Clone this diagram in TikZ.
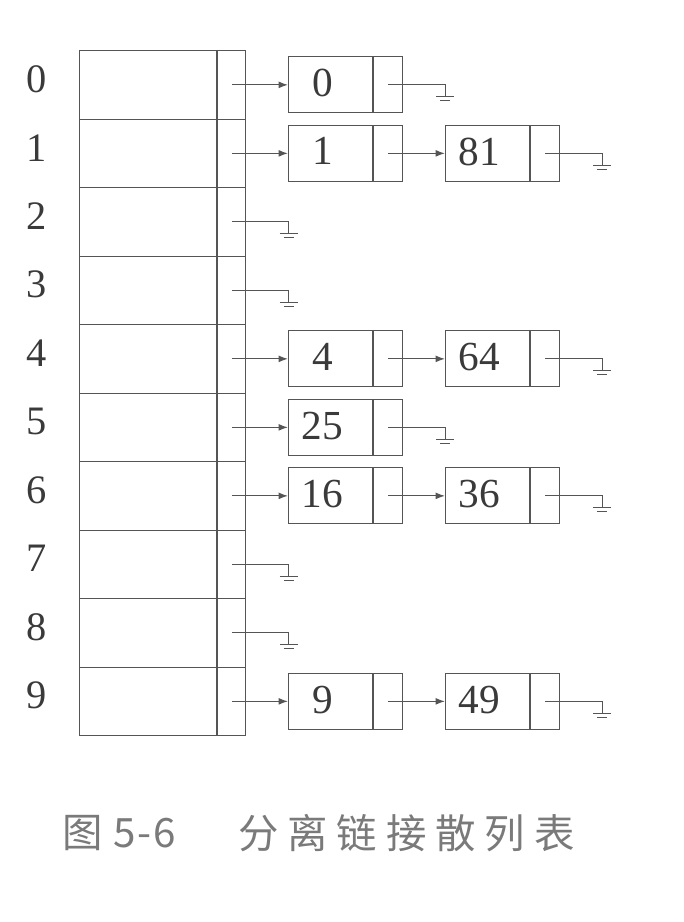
\documentclass[tikz,border=0pt]{standalone}
\usepackage{fontspec}
\setmainfont{Liberation Serif}
\newfontfamily\capfont[LetterSpace=4]{Noto Sans CJK SC}
\newfontfamily\capwidefont[LetterSpace=22]{Noto Sans CJK SC}
\usepackage{xcolor}
\usepackage{tikz}
\usetikzlibrary{arrows.meta,calc,positioning}
\definecolor{hashInk}{HTML}{3A3A3A}
\definecolor{hashLine}{HTML}{555555}
\definecolor{hashCaption}{HTML}{7A7A7A}
\tikzset{
  hashslot/.style={rectangle, draw=hashLine, line width=0.7pt,
    minimum width=2.74cm, minimum height=1.37cm, inner sep=0pt,
    anchor=north west},
  hashptr/.style={rectangle, draw=hashLine, line width=0.7pt,
    minimum width=0.56cm, minimum height=1.37cm, inner sep=0pt,
    anchor=north west},
  hashidx/.style={font=\fontsize{23}{26}\selectfont, text=hashInk,
    inner sep=0pt},
  keybox/.style={rectangle, draw=hashLine, line width=0.7pt,
    minimum width=1.68cm, minimum height=1.12cm, inner sep=0pt,
    anchor=west, font=\fontsize{23.5}{26}\selectfont, text=hashInk},
  keyptr/.style={rectangle, draw=hashLine, line width=0.7pt,
    minimum width=0.58cm, minimum height=1.12cm, inner sep=0pt,
    anchor=west},
  hashlink/.style={-{Latex[length=1.9mm,width=1.4mm]}, draw=hashLine,
    line width=0.7pt},
  hashnil/.style={draw=hashLine, line width=0.7pt},
  hashcap/.style={font=\fontsize{23}{26}\selectfont,
    text=hashCaption, anchor=west, inner sep=0pt},
}
% key cell: position, name, key
\newcommand{\keycell}[3]{%
  \node[keybox] (k#2) at (#1) {\hspace*{-0.32cm}\raisebox{0.08cm}{#3}};%
  \node[keyptr] (k#2p) at (k#2.east) {};%
}
% null pointer: from node centre to a grounded coordinate
\newcommand{\nilptr}[2]{%
  \coordinate (#2) at ($(#1.center)+(1.14,-0.24)$);%
  \draw[hashnil] (#1.center) -| (#2);%
  \draw[hashnil] ($(#2)+(-0.18,0)$) -- ($(#2)+(0.18,0)$);%
  \draw[hashnil] ($(#2)+(-0.10,-0.08)$) -- ($(#2)+(0.10,-0.08)$);%
}

\begin{document}
\begin{tikzpicture}[x=1cm,y=1cm]
  \path[use as bounding box] (0,0) rectangle (13.68,-18.44);

  % hash table with its ten slots
  \foreach \i in {0,...,9} {
    \node[hashslot] (slot\i) at (1.58,{-1.0-1.37*\i}) {};
    \node[hashptr] (ptr\i) at (slot\i.north east) {};
    \node[hashidx] (idx\i) at (0.74,{-1.585-1.37*\i}) {\i};
  }

  % chains
  \keycell{5.76,0 |- ptr0}{0}{0}
  \keycell{5.76,0 |- ptr1}{1}{1}
  \keycell{8.90,0 |- ptr1}{81}{81}
  \keycell{5.76,0 |- ptr4}{4}{4}
  \keycell{8.90,0 |- ptr4}{64}{64}
  \keycell{5.76,0 |- ptr5}{25}{25}
  \keycell{5.76,0 |- ptr6}{16}{16}
  \keycell{8.90,0 |- ptr6}{36}{36}
  \keycell{5.76,0 |- ptr9}{9}{9}
  \keycell{8.90,0 |- ptr9}{49}{49}

  \draw[hashlink] (ptr0.center) -- (k0.west);
  \draw[hashlink] (ptr1.center) -- (k1.west);
  \draw[hashlink] (k1p.center) -- (k81.west);
  \draw[hashlink] (ptr4.center) -- (k4.west);
  \draw[hashlink] (k4p.center) -- (k64.west);
  \draw[hashlink] (ptr5.center) -- (k25.west);
  \draw[hashlink] (ptr6.center) -- (k16.west);
  \draw[hashlink] (k16p.center) -- (k36.west);
  \draw[hashlink] (ptr9.center) -- (k9.west);
  \draw[hashlink] (k9p.center) -- (k49.west);

  % empty slots and chain ends
  \nilptr{ptr2}{nil2}
  \nilptr{ptr3}{nil3}
  \nilptr{ptr7}{nil7}
  \nilptr{ptr8}{nil8}
  \nilptr{k0p}{nil0}
  \nilptr{k81p}{nil81}
  \nilptr{k64p}{nil64}
  \nilptr{k25p}{nil25}
  \nilptr{k36p}{nil36}
  \nilptr{k49p}{nil49}

  \node[hashcap] (capnum) at (1.24,-16.66) {\capfont 图 5-6};
  \node[hashcap] (captext) at (4.76,-16.66) {\capwidefont 分离链接散列表};
\end{tikzpicture}
\end{document}
